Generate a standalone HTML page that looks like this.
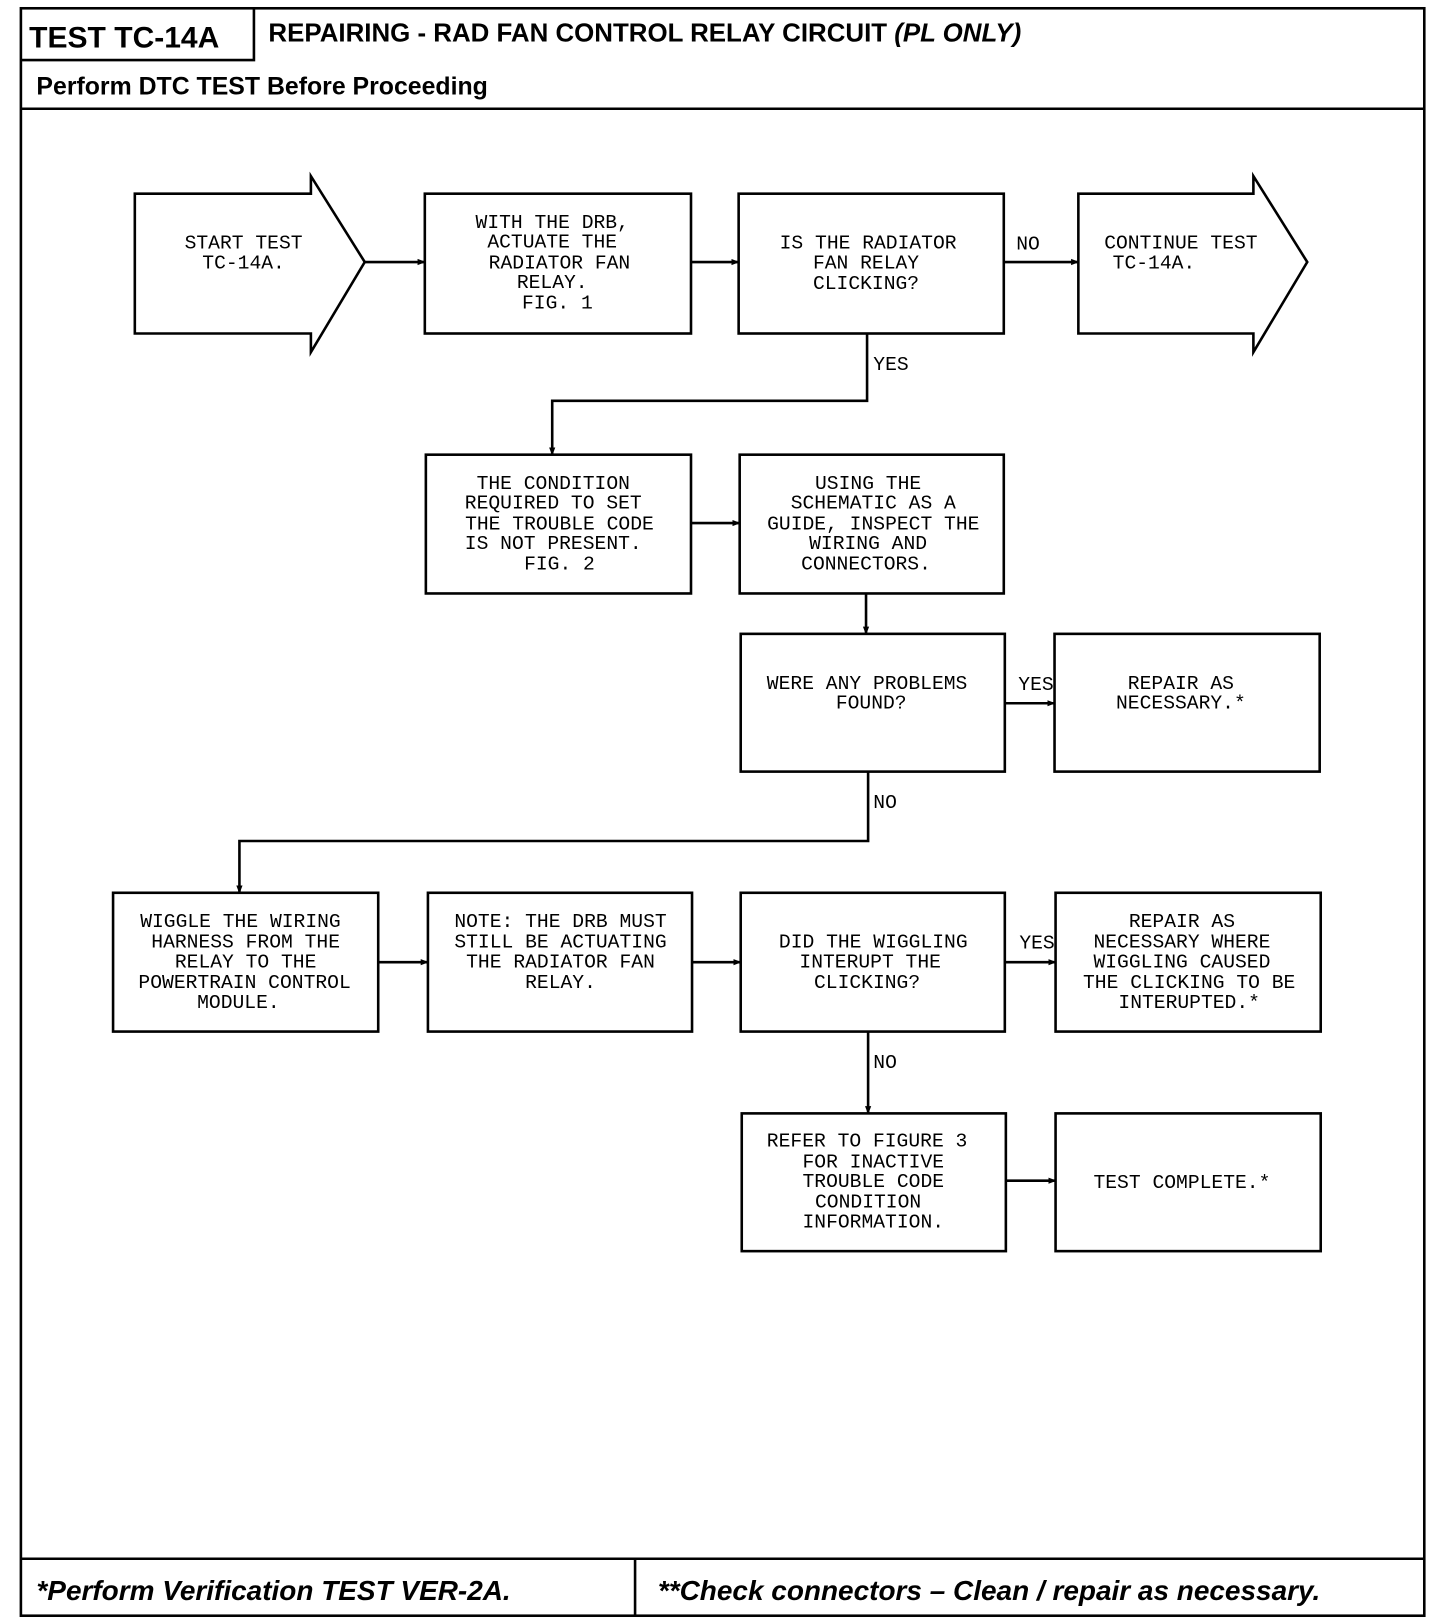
<!DOCTYPE html>
<html><head><meta charset="utf-8"><style>
html,body{margin:0;padding:0;background:#fff;}
svg{display:block}
.t{font-family:"Liberation Mono",monospace;font-size:19px;fill:#000;text-anchor:middle}
.l{font-family:"Liberation Mono",monospace;font-size:19px;fill:#000}
.h{font-family:"Liberation Sans",sans-serif;font-weight:bold;fill:#000}
</style></head><body>
<svg width="1440" height="1624" viewBox="0 0 1390 1568" xmlns="http://www.w3.org/2000/svg">
<defs><marker id="a" markerWidth="8" markerHeight="8" refX="7" refY="4" orient="auto" markerUnits="userSpaceOnUse"><path d="M0,1 L8,4 L0,7 z" fill="#000"/></marker></defs>
<g fill="none" stroke="#000" stroke-width="2.5">
<rect x="20" y="8" width="1355" height="1552"/>
<path d="M20,105 H1375 M245,8 V58 H20 M20,1505 H1375 M613,1505 V1560"/>
<path d="M130,187 H300 V170 L352,253 L300,340 V322 H130 Z"/>
<path d="M1041,187 H1210 V170 L1262,253 L1210,340 V322 H1041 Z"/>
<rect x="410" y="187" width="257" height="135"/>
<rect x="713" y="187" width="256" height="135"/>
<rect x="411" y="439" width="256" height="134"/>
<rect x="714" y="439" width="255" height="134"/>
<rect x="715" y="612" width="255" height="133"/>
<rect x="1018" y="612" width="256" height="133"/>
<rect x="109" y="862" width="256" height="134"/>
<rect x="413" y="862" width="255" height="134"/>
<rect x="715" y="862" width="255" height="134"/>
<rect x="1019" y="862" width="256" height="134"/>
<rect x="716" y="1075" width="255" height="133"/>
<rect x="1019" y="1075" width="256" height="133"/>
</g>
<g fill="none" stroke="#000" stroke-width="2.5" marker-end="url(#a)">
<path d="M352,253 H410"/><path d="M667,253 H713"/><path d="M969,253 H1041"/>
<path d="M837,322 V387 H533 V439"/>
<path d="M667,505 H714"/><path d="M836,573 V612"/>
<path d="M970,679 H1018"/>
<path d="M838,745 V812 H231 V862"/>
<path d="M365,929 H413"/><path d="M668,929 H715"/><path d="M970,929 H1019"/>
<path d="M838,996 V1075"/><path d="M971,1140 H1019"/>
</g>
<text class="h" x="28" y="46" font-size="29">TEST TC-14A</text>
<text class="h" x="259" y="40" font-size="25">REPAIRING - RAD FAN CONTROL RELAY CIRCUIT <tspan font-style="italic">(PL ONLY)</tspan></text>
<text class="h" x="35" y="91" font-size="24">Perform DTC TEST Before Proceeding</text>
<text class="h" x="35" y="1545" font-size="27" font-style="italic">*Perform  Verification  TEST  VER-2A.</text>
<text class="h" x="635" y="1545" font-size="27" font-style="italic">**Check connectors – Clean / repair as necessary.</text>
<g class="t">
<text x="235" y="240">START TEST</text><text x="235" y="259">TC-14A.</text>
<text x="533" y="220">WITH THE DRB,</text><text x="533" y="239">ACTUATE THE</text><text x="540" y="259">RADIATOR FAN</text><text x="533" y="278">RELAY.</text><text x="538" y="298">FIG. 1</text>
<text x="838" y="240">IS THE RADIATOR</text><text x="836" y="259">FAN RELAY</text><text x="836" y="279">CLICKING?</text>
<text x="1140" y="240">CONTINUE TEST</text><text x="1114" y="259">TC-14A.</text>
<text x="534" y="472">THE CONDITION</text><text x="534" y="491">REQUIRED TO SET</text><text x="540" y="511">THE TROUBLE CODE</text><text x="534" y="530">IS NOT PRESENT.</text><text x="540" y="550">FIG. 2</text>
<text x="838" y="472">USING THE</text><text x="843" y="491">SCHEMATIC AS A</text><text x="843" y="511">GUIDE, INSPECT THE</text><text x="838" y="530">WIRING AND</text><text x="836" y="550">CONNECTORS.</text>
<text x="837" y="665">WERE ANY PROBLEMS</text><text x="841" y="684">FOUND?</text>
<text x="1140" y="665">REPAIR AS</text><text x="1140" y="684">NECESSARY.*</text>
<text x="232" y="895">WIGGLE THE WIRING</text><text x="237" y="915">HARNESS FROM THE</text><text x="237" y="934">RELAY TO THE</text><text x="236" y="954">POWERTRAIN CONTROL</text><text x="230" y="973">MODULE.</text>
<text x="541" y="895">NOTE: THE DRB MUST</text><text x="541" y="915">STILL BE ACTUATING</text><text x="541" y="934">THE RADIATOR FAN</text><text x="541" y="954">RELAY.</text>
<text x="843" y="915">DID THE WIGGLING</text><text x="840" y="934">INTERUPT THE</text><text x="837" y="954">CLICKING?</text>
<text x="1141" y="895">REPAIR AS</text><text x="1141" y="915">NECESSARY WHERE</text><text x="1141" y="934">WIGGLING CAUSED</text><text x="1148" y="954">THE CLICKING TO BE</text><text x="1148" y="973">INTERUPTED.*</text>
<text x="837" y="1107">REFER TO FIGURE 3</text><text x="843" y="1127">FOR INACTIVE</text><text x="843" y="1146">TROUBLE CODE</text><text x="838" y="1166">CONDITION</text><text x="843" y="1185">INFORMATION.</text>
<text x="1141" y="1147">TEST COMPLETE.*</text>
</g>
<g class="l">
<text x="981" y="241">NO</text><text x="843" y="357">YES</text>
<text x="983" y="666">YES</text><text x="843" y="780">NO</text>
<text x="984" y="916">YES</text><text x="843" y="1031">NO</text>
</g>
</svg>
</body></html>
